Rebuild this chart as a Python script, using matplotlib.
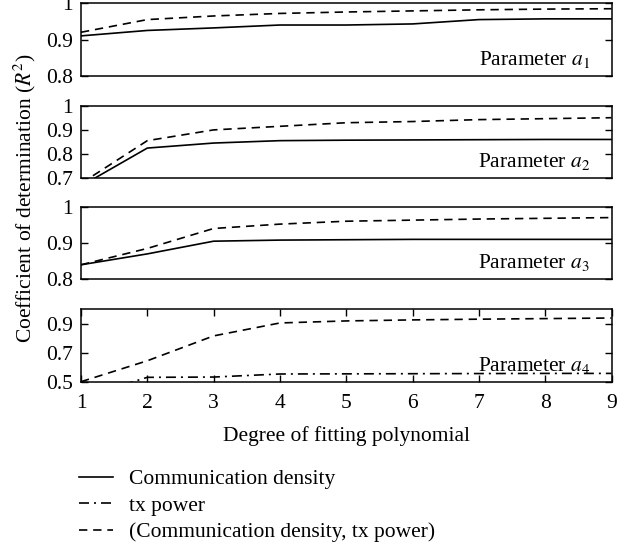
import matplotlib
matplotlib.use("Agg")
import matplotlib.pyplot as plt
from matplotlib.lines import Line2D

plt.rcParams["font.family"] = ["Liberation Serif", "DejaVu Serif"]
plt.rcParams["mathtext.fontset"] = "stix"
FS = 15.5
plt.rcParams["font.size"] = FS

degree = [1, 2, 3, 4, 5, 6, 7, 8, 9]

# Coefficient of determination per parameter
a1_density = [0.910, 0.925, 0.932, 0.940, 0.940, 0.943, 0.955, 0.957, 0.957]
a1_both = [0.920, 0.955, 0.965, 0.972, 0.976, 0.979, 0.982, 0.984, 0.985]

a2_density = [0.665, 0.824, 0.845, 0.855, 0.857, 0.858, 0.859, 0.860, 0.860]
a2_both = [0.676, 0.855, 0.900, 0.915, 0.930, 0.935, 0.943, 0.947, 0.951]

a3_density = [0.840, 0.870, 0.905, 0.908, 0.909, 0.910, 0.910, 0.910, 0.910]
a3_both = [0.840, 0.885, 0.940, 0.952, 0.960, 0.963, 0.966, 0.968, 0.970]

a4_txpower = [0.390, 0.530, 0.532, 0.553, 0.554, 0.555, 0.556, 0.557, 0.557]
a4_both = [0.500, 0.644, 0.815, 0.904, 0.918, 0.925, 0.930, 0.934, 0.938]

panels = [
    dict(lines=[("density", a1_density), ("both", a1_both)], ylim=(0.8, 1.0),
         yticks=[0.8, 0.9, 1.0], yticklabels=["0.8", "0.9", "1"], name="$a_1$"),
    dict(lines=[("density", a2_density), ("both", a2_both)], ylim=(0.7, 1.0),
         yticks=[0.7, 0.8, 0.9, 1.0], yticklabels=["0.7", "0.8", "0.9", "1"], name="$a_2$"),
    dict(lines=[("density", a3_density), ("both", a3_both)], ylim=(0.8, 1.0),
         yticks=[0.8, 0.9, 1.0], yticklabels=["0.8", "0.9", "1"], name="$a_3$"),
    dict(lines=[("tx", a4_txpower), ("both", a4_both)], ylim=(0.5, 1.0),
         yticks=[0.5, 0.7, 0.9], yticklabels=["0.5", "0.7", "0.9"], name="$a_4$"),
]

styles = {
    "density": dict(linestyle="-"),
    "tx": dict(linestyle=(0, (6, 3, 1.2, 3))),
    "both": dict(linestyle=(0, (5, 3.5))),
}

W, H = 629, 548
fig = plt.figure(figsize=(W / 100, H / 100), dpi=100)

boxes = [(3.3, 75.7), (106, 177.7), (206.7, 279.3), (309, 381.7)]
left_px, right_px = 81, 611.5

axes = []
for (top, bot), p in zip(boxes, panels):
    ax = fig.add_axes([left_px / W, 1 - bot / H, (right_px - left_px) / W, (bot - top) / H])
    for key, vals in p["lines"]:
        ax.plot(degree, vals, color="black", linewidth=1.2, **styles[key])
    ax.set_xlim(1, 9)
    ax.set_ylim(*p["ylim"])
    ax.set_yticks(p["yticks"])
    ax.set_yticklabels(p["yticklabels"])
    ax.tick_params(axis="y", direction="in", right=True, length=5, width=1, pad=6)
    for s in ax.spines.values():
        s.set_linewidth(1.1)
    ax.text(0.96, 0.08, "Parameter " + p["name"], transform=ax.transAxes,
            ha="right", va="bottom", fontsize=FS)
    axes.append(ax)

for ax in axes[:3]:
    ax.set_xticks([])

ax4 = axes[3]
ax4.set_xticks(degree)
ax4.tick_params(axis="x", direction="in", top=True, length=5, width=1, pad=9)
ax4.set_xlabel("Degree of fitting polynomial", labelpad=9)

fig.text(25 / W, 1 - 198 / H, "Coefficient of determination ($R^2$)",
         rotation=90, ha="center", va="center", fontsize=FS)

handles = [
    Line2D([], [], color="black", linewidth=1.2, **styles["density"]),
    Line2D([], [], color="black", linewidth=1.2, **styles["tx"]),
    Line2D([], [], color="black", linewidth=1.2, **styles["both"]),
]
labels = ["Communication density", "tx power", "(Communication density, tx power)"]
fig.legend(handles, labels, loc="upper left", bbox_to_anchor=(79 / W, 1 - 469 / H),
           frameon=False, handlelength=1.6, handletextpad=0.7, borderpad=0,
           borderaxespad=0, labelspacing=0.3, fontsize=FS)

fig.savefig("out.png", dpi=100)
